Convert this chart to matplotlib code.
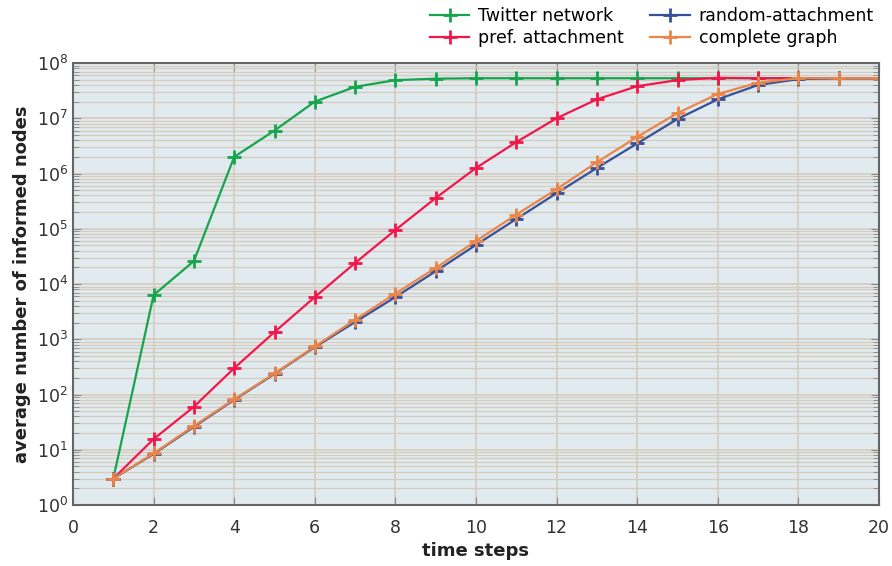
import matplotlib
matplotlib.use("Agg")
import matplotlib.pyplot as plt
from matplotlib.ticker import LogLocator, MultipleLocator, NullFormatter

steps = list(range(1, 21))
twitter = [3, 6300, 26000, 2.0e6, 6.0e6, 2.0e7, 3.7e7, 4.9e7, 5.2e7, 5.3e7,
           5.3e7, 5.3e7, 5.3e7, 5.3e7, 5.3e7, 5.3e7, 5.3e7, 5.3e7, 5.3e7, 5.3e7]
pref = [3, 15.6, 60, 300, 1350, 5800, 24000, 95000, 3.6e5, 1.26e6,
        3.7e6, 1.0e7, 2.2e7, 3.8e7, 4.9e7, 5.4e7, 5.3e7, 5.3e7, 5.3e7, 5.3e7]
random_att = [3, 8.4, 26, 80, 235, 720, 2050, 5800, 17000, 51000,
              1.5e5, 4.4e5, 1.26e6, 3.5e6, 9.7e6, 2.2e7, 4.0e7, 5.1e7, 5.3e7, 5.3e7]
complete = [3, 8.6, 27, 82, 240, 740, 2250, 6700, 19500, 60000,
            1.8e5, 5.2e5, 1.6e6, 4.6e6, 1.24e7, 2.75e7, 4.4e7, 5.3e7, 5.3e7, 5.3e7]

series = [
    ("Twitter network", twitter, "#16a44c"),
    ("pref. attachment", pref, "#f2174b"),
    ("random-attachment", random_att, "#36509a"),
    ("complete graph", complete, "#eb8548"),
]

plt.rcParams['font.family'] = ['DejaVu Sans']
fig = plt.figure(figsize=(8.92, 5.66), dpi=100)
ax = fig.add_axes([73/892, 1-505/566, (879-73)/892, (505-63)/566])
ax.set_facecolor("#e1eaee")

handles = []
for name, vals, col in series:
    h, = ax.plot(steps, vals, color=col, lw=1.6, marker='+', ms=10.5, mew=2, label=name)
    handles.append(h)

ax.set_yscale('log')
ax.set_xlim(0, 20)
ax.set_ylim(1, 1e8)
ax.xaxis.set_major_locator(MultipleLocator(2))
ax.yaxis.set_major_locator(LogLocator(base=10, numticks=20))
ax.yaxis.set_minor_locator(LogLocator(base=10, subs=range(2, 10), numticks=20))
ax.yaxis.set_minor_formatter(NullFormatter())
ax.xaxis.offsetText.set_visible(False)
ax.yaxis.offsetText.set_visible(False)

grid_col = "#d6cbbf"
ax.grid(True, which='major', axis='both', color=grid_col, lw=1.2)
ax.grid(True, which='minor', axis='y', color=grid_col, lw=0.9)
ax.set_axisbelow(True)

for s in ax.spines.values():
    s.set_color("#666666")
    s.set_linewidth(1.5)

ax.tick_params(which='both', direction='in', top=True, right=True, colors="#888888",
               labelcolor="#333333", labelsize=12.5)
ax.tick_params(which='major', length=6)
ax.tick_params(which='minor', length=4)
ax.tick_params(axis='x', pad=10)

ax.set_xlabel("time steps", fontsize=13, fontweight='bold', color="#222222")
ax.set_ylabel("average number of informed nodes", fontsize=13, fontweight='bold',
              color="#222222")

fig.legend(handles=handles, loc='upper right', bbox_to_anchor=(0.997, 1.015), ncol=2,
           frameon=False, fontsize=12.5, handlelength=2.3, columnspacing=1.5,
           labelspacing=0.2, handletextpad=0.5)

fig.savefig("out.png", dpi=100)
